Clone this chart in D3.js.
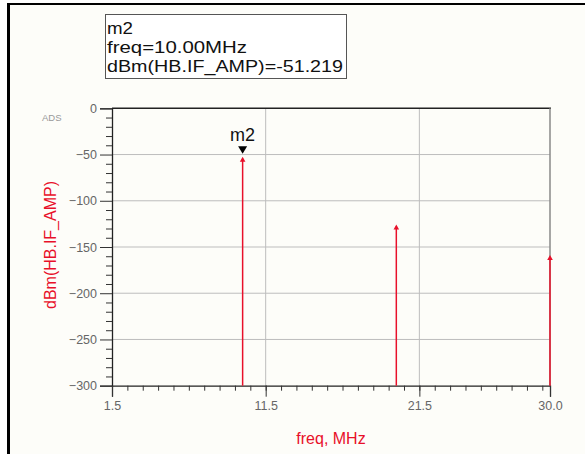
<!DOCTYPE html>
<html><head><meta charset="utf-8">
<script src="https://cdn.jsdelivr.net/npm/d3@7"></script>
<style>
html,body{margin:0;padding:0;background:#fff;}
svg{display:block;}
text{font-family:Arial,"Liberation Sans",sans-serif;}
</style></head><body>
<svg id="c" width="585" height="454"></svg>
<script>
const freqs = [10.0, 20.0, 30.0];
const dbm = [-51.219, -124.5, -157.5];
const xTicks = [1.5, 11.5, 21.5, 30.0];
const yTicks = [0, -50, -100, -150, -200, -250, -300];
const markerLines = ["m2", "freq=10.00MHz", "dBm(HB.IF_AMP)=-51.219"];

const svg = d3.select("#c");
// page background and frame
svg.append("rect").attr("x",8).attr("y",4).attr("width",577).attr("height",450).attr("fill","#fdfdf9");
svg.append("line").attr("x1",8.5).attr("x2",8.5).attr("y1",3).attr("y2",454).attr("stroke","#000").attr("stroke-width",3);
svg.append("line").attr("x1",7).attr("x2",585).attr("y1",4).attr("y2",4).attr("stroke","#000").attr("stroke-width",2);

const L=112, R=550, T=108.3, B=385.7;
const x = d3.scaleLinear().domain([1.5,30]).range([L,R]);
const y = d3.scaleLinear().domain([-300,0]).range([B,T]);

// grid
const g = svg.append("g");
g.selectAll(".gx").data(xTicks.slice(1,-1)).enter().append("line")
 .attr("x1",d=>x(d)).attr("x2",d=>x(d)).attr("y1",T).attr("y2",B).attr("stroke","#bdbdbd").attr("stroke-width",1);
g.selectAll(".gy").data(yTicks.slice(1,-1)).enter().append("line")
 .attr("x1",L).attr("x2",R).attr("y1",d=>y(d)).attr("y2",d=>y(d)).attr("stroke","#bdbdbd").attr("stroke-width",1);
// frame top & right
g.append("line").attr("x1",L).attr("x2",R+1).attr("y1",T).attr("y2",T).attr("stroke","#222").attr("stroke-width",1.5);
g.append("line").attr("x1",R).attr("x2",R).attr("y1",T).attr("y2",B).attr("stroke","#888").attr("stroke-width",1.5);

// axes
const yAxis = d3.axisLeft(y).tickValues(yTicks).tickSize(12).tickPadding(3).tickFormat(d3.format("d"));
svg.append("g").attr("transform",`translate(${L},0)`).call(yAxis);
const yMinor = d3.axisLeft(y).tickValues(d3.range(-300,1,10).filter(v=>v%50!==0)).tickSize(6).tickFormat("");
svg.append("g").attr("transform",`translate(${L},0)`).call(yMinor).select(".domain").remove();
const xAxis = d3.axisBottom(x).tickValues(xTicks).tickSize(11).tickPadding(4).tickFormat(d3.format(".1f"));
svg.append("g").attr("transform",`translate(0,${B})`).call(xAxis);
const xMinor = d3.axisBottom(x).tickValues(d3.range(2.5,30,1)).tickSize(5).tickFormat("");
svg.append("g").attr("transform",`translate(0,${B})`).call(xMinor).select(".domain").remove();
svg.selectAll(".domain").attr("stroke","#222").attr("stroke-width",1.3);
svg.selectAll(".tick line").attr("stroke","#333");
svg.selectAll(".tick text").attr("fill","#666").attr("font-size",12.5).attr("font-family","Arial, 'Liberation Sans', sans-serif");

// spikes
const sp = svg.append("g");
const data = freqs.map((f,i)=>({f, v:dbm[i]}));
sp.selectAll("line.s").data(data).enter().append("line")
 .attr("x1",d=>x(d.f)).attr("x2",d=>x(d.f)).attr("y1",B).attr("y2",d=>y(d.v)+3)
 .attr("stroke","#e8102a").attr("stroke-width",1.5);
sp.selectAll("path.a").data(data).enter().append("path")
 .attr("d",d=>{const cx=x(d.f), cy=y(d.v)+1; return `M${cx},${cy} L${cx-2.8},${cy+5} L${cx+2.8},${cy+5} Z`;})
 .attr("fill","#e8102a");

// marker m2
const mx = x(freqs[0]), my = y(dbm[0]);
svg.append("path").attr("d",`M${mx-4.5},${my-9.5} L${mx+4.5},${my-9.5} L${mx},${my-2} Z`).attr("fill","#000");
svg.append("text").attr("x",mx).attr("y",my-15).attr("text-anchor","middle").attr("font-size",18).attr("fill","#111").text(markerLines[0]);

// marker readout box
svg.append("rect").attr("x",105.5).attr("y",14.5).attr("width",241).attr("height",64).attr("fill","#fff").attr("stroke","#555").attr("stroke-width",1);
svg.selectAll("text.mk").data(markerLines).enter().append("text")
 .attr("x",107).attr("y",(d,i)=>34+i*19).attr("font-size",17).attr("fill","#111")
 .attr("textLength",(d,i)=>[26,140,236][i]).attr("lengthAdjust","spacingAndGlyphs").text(d=>d);

// labels
svg.append("text").attr("x",42).attr("y",121).attr("font-size",9.5).attr("fill","#999").text("ADS");
svg.append("text").attr("transform","translate(56,245) rotate(-90)").attr("text-anchor","middle")
 .attr("font-size",16).attr("fill","#e8102a").text("dBm(HB.IF_AMP)");
svg.append("text").attr("x",331).attr("y",444).attr("text-anchor","middle").attr("font-size",16).attr("fill","#e8102a").text("freq, MHz");
</script></body></html>
